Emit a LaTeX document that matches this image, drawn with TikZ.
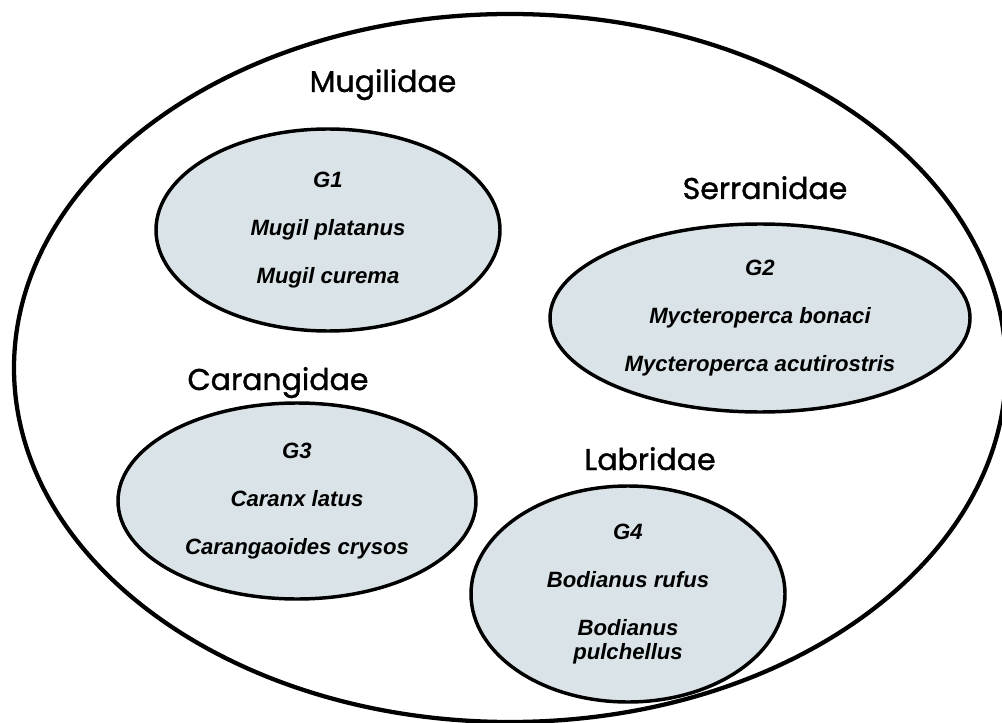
\documentclass[tikz,border=0pt]{standalone}
\usepackage{fontspec}
\setmainfont{Liberation Sans}
\newfontfamily\famfont[FakeBold=1.3]{Poppins}
\usepackage{tikz}
\usetikzlibrary{shapes.geometric}
\definecolor{pale}{HTML}{DAE4E8}

\begin{document}
\begin{tikzpicture}[x=.75pt,y=-.75pt,
  group/.style={ellipse,draw,line width=2.6pt,fill=pale,inner sep=0pt,align=center,font=\fontsize{16.6}{18}\selectfont\bfseries\itshape},
  family/.style={anchor=base,font=\famfont\fontsize{22.5}{26}\selectfont}]
\useasboundingbox (0,0) rectangle (1002,723);
\node[ellipse,draw,line width=3.2pt,minimum width=744pt,minimum height=531pt] (all) at (510,368) {};
\node[group,minimum width=258pt,minimum height=151.5pt] (g1) at (328,230) {G1\\[18pt]Mugil platanus\\[18pt]Mugil curema};
\node[group,minimum width=315pt,minimum height=141pt] (g2) at (760,318) {G2\\[18pt]Mycteroperca bonaci\\[18pt]Mycteroperca acutirostris};
\node[group,minimum width=268.5pt,minimum height=147pt] (g3) at (297,501) {G3\\[18pt]Caranx latus\\[18pt]Carangaoides crysos};
\node[group,minimum width=235.5pt,minimum height=162pt] (g4) at (628,594) {G4\\[18pt]Bodianus rufus\\[18pt]Bodianus\\pulchellus};
\node[family] (mugil) at (383,92) {Mugilidae};
\node[family] (serran) at (765,199) {Serranidae};
\node[family] (carang) at (278,390) {Carangidae};
\node[family] (labrid) at (650,470) {Labridae};
\end{tikzpicture}
\end{document}
